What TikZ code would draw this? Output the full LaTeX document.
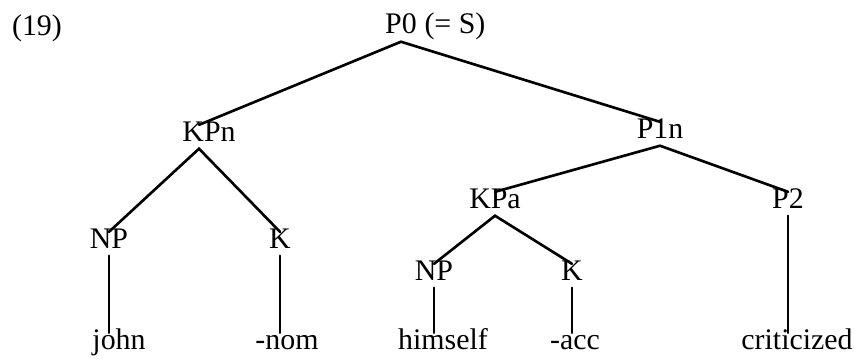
\documentclass[tikz,border=0pt]{standalone}
\usepackage{fontspec}
\setmainfont{Liberation Serif}
\usetikzlibrary{positioning}

\begin{document}
\begin{tikzpicture}[
    label/.style={inner sep=2pt, anchor=base, text height=0.7em, text depth=0.22em, font=\fontsize{17}{20}\selectfont},
    cat/.style={label},
    word/.style={label},
    branch/.style={line width=1.5pt, line cap=round},
]
\useasboundingbox (0, 0) rectangle (17.1, -7.16);

\node[label] (num) at (0.74, -0.72) {(19)};

\node[cat] (p0) at (8.02, -0.68) {P0};
\node[cat, right=0pt of p0.base east, anchor=base west] (p0eq) {(= S)};

\node[cat] (kpn) at (4.18, -2.82) {KPn};
\node[cat] (p1n) at (13.2, -2.76) {P1n};

\node[cat] (np1) at (2.18, -4.96) {NP};
\node[cat] (k1) at (5.6, -4.96) {K};
\node[cat] (kpa) at (9.9, -4.16) {KPa};
\node[cat] (p2) at (15.76, -4.16) {P2};
\node[cat] (np2) at (8.68, -5.6) {NP};
\node[cat] (k2) at (11.44, -5.6) {K};

\node[word] (john) at (2.38, -6.98) {john};
\node[word] (nom) at (5.74, -6.98) {-nom};
\node[word] (himself) at (8.86, -6.98) {himself};
\node[word] (acc) at (11.5, -6.98) {-acc};
\node[word] (crit) at (15.94, -6.98) {criticized};

\draw[branch] ([xshift=-0.2cm]kpn.north) -- (p0.south) -- (p1n.north);
\draw[branch] (np1.north) -- ([xshift=-0.2cm]kpn.south) -- (k1.north);
\draw[branch] (kpa.north) -- (p1n.south) -- (p2.north);
\draw[branch] (np2.north) -- (kpa.south) -- (k2.north);

\draw[branch] (np1.south) -- (np1.south |- john.north);
\draw[branch] (k1.south) -- (k1.south |- nom.north);
\draw[branch] (np2.south) -- (np2.south |- himself.north);
\draw[branch] (k2.south) -- (k2.south |- acc.north);
\draw[branch] (p2.south) -- (p2.south |- crit.north);

\end{tikzpicture}
\end{document}
